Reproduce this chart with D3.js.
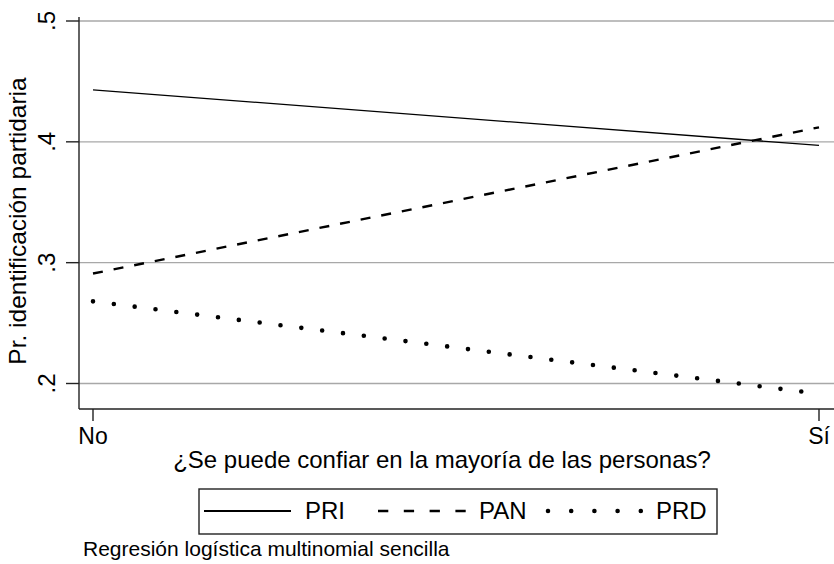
<!DOCTYPE html>
<html lang="es">
<head>
  <meta charset="UTF-8" />
  <title>Pr. identificación partidaria</title>
  <script src="https://cdn.jsdelivr.net/npm/d3@7"></script>
  <style>
    body { margin: 0; background: #fff; }
    svg text { font-family: "Liberation Sans", Arial, sans-serif; fill: #000; }
  </style>
</head>
<body>
  <div id="chart"></div>
  <script>
    // Data
    var categories = ["No", "Sí"];
    var priValues = [0.443, 0.397];
    var panValues = [0.291, 0.412];
    var prdValues = [0.268, 0.1915];
    var yTicks = [0.2, 0.3, 0.4, 0.5];
    var yTickLabels = [".2", ".3", ".4", ".5"];

    var width = 834, height = 564;
    var svg = d3.select("#chart").append("svg")
      .attr("width", width)
      .attr("height", height);

    var x = d3.scalePoint().domain(categories).range([93, 819]);
    var y = d3.scaleLinear().domain([0.2, 0.5]).range([383.5, 21]);

    // gridlines
    svg.selectAll(".grid").data(yTicks).enter().append("line")
      .attr("x1", 79).attr("x2", width)
      .attr("y1", d => y(d)).attr("y2", d => y(d))
      .attr("stroke", "#a8a8a8").attr("stroke-width", 1.4);

    // y axis
    svg.append("line")
      .attr("x1", 79).attr("x2", 79).attr("y1", 17).attr("y2", 409)
      .attr("stroke", "#222").attr("stroke-width", 1.4);
    svg.selectAll(".ytick").data(yTicks).enter().append("line")
      .attr("x1", 66).attr("x2", 79)
      .attr("y1", d => y(d)).attr("y2", d => y(d))
      .attr("stroke", "#222").attr("stroke-width", 1.4);
    svg.selectAll(".ylab").data(yTicks).enter().append("text")
      .attr("transform", d => "translate(55," + y(d) + ") rotate(-90)")
      .attr("text-anchor", "middle")
      .attr("font-size", 24)
      .text((d, i) => yTickLabels[i]);
    svg.append("text")
      .attr("transform", "translate(26,221) rotate(-90)")
      .attr("text-anchor", "middle")
      .attr("font-size", 24.5)
      .text("Pr. identificación partidaria");

    // x axis
    svg.append("line")
      .attr("x1", 79).attr("x2", width).attr("y1", 409).attr("y2", 409)
      .attr("stroke", "#222").attr("stroke-width", 1.4);
    svg.selectAll(".xtick").data(categories).enter().append("line")
      .attr("x1", d => x(d)).attr("x2", d => x(d))
      .attr("y1", 409).attr("y2", 421)
      .attr("stroke", "#222").attr("stroke-width", 1.4);
    svg.selectAll(".xlab").data(categories).enter().append("text")
      .attr("x", d => x(d)).attr("y", 444)
      .attr("text-anchor", "middle")
      .attr("font-size", 23)
      .text(d => d);
    svg.append("text")
      .attr("x", 442).attr("y", 468)
      .attr("text-anchor", "middle")
      .attr("font-size", 24)
      .text("¿Se puede confiar en la mayoría de las personas?");

    // series
    var series = [
      { name: "PRI", values: priValues, dash: null, width: 1.3, cap: "butt" },
      { name: "PAN", values: panValues, dash: "10 11", width: 2.4, cap: "butt" },
      { name: "PRD", values: prdValues, dash: "0 21", width: 4.6, cap: "round" }
    ];
    var line = d3.line()
      .x((d, i) => x(categories[i]))
      .y(d => y(d));

    series.forEach(function(s) {
      svg.append("path")
        .datum(s.values)
        .attr("d", line)
        .attr("fill", "none")
        .attr("stroke", "#000")
        .attr("stroke-width", s.width)
        .attr("stroke-linecap", s.cap)
        .attr("stroke-dasharray", s.dash);
    });

    // legend
    svg.append("rect")
      .attr("x", 199).attr("y", 489).attr("width", 518).attr("height", 45)
      .attr("fill", "#fff").attr("stroke", "#222").attr("stroke-width", 1.4);
    var legendItems = [
      { s: series[0], x1: 204, x2: 291, tx: 305, dash: null, w: 2 },
      { s: series[1], x1: 378, x2: 466, tx: 479, dash: "10.3 15.5", w: 2.6 },
      { s: series[2], x1: 548, x2: 642, tx: 656, dash: "0 23.2", w: 4.6 }
    ];
    legendItems.forEach(function(it) {
      svg.append("line")
        .attr("x1", it.x1).attr("x2", it.x2).attr("y1", 511).attr("y2", 511)
        .attr("stroke", "#000")
        .attr("stroke-width", it.w)
        .attr("stroke-linecap", it.s.cap)
        .attr("stroke-dasharray", it.dash);
      svg.append("text")
        .attr("x", it.tx).attr("y", 519)
        .attr("font-size", 24)
        .text(it.s.name);
    });

    // note
    svg.append("text")
      .attr("x", 83).attr("y", 556)
      .attr("font-size", 21)
      .text("Regresión logística multinomial sencilla");
  </script>
</body>
</html>
